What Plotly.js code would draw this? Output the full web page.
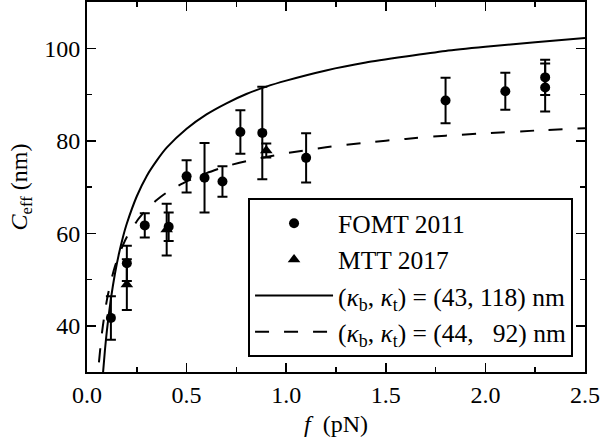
<!DOCTYPE html>
<html>
<head>
<meta charset="utf-8">
<script src="https://cdn.plot.ly/plotly-3.0.1.min.js"></script>
<style>
  html, body { margin: 0; padding: 0; background: #ffffff; }
  #chart { width: 600px; height: 441px; }
</style>
</head>
<body>
<div id="chart"></div>
<script>
// FOMT 2011 data (circles)
const fomtForce = [0.12, 0.20, 0.29, 0.41, 0.50, 0.59, 0.68, 0.77, 0.88, 1.10, 1.80, 2.10, 2.30, 2.30];
const fomtCeff  = [41.7, 53.5, 61.7, 61.4, 72.3, 72.0, 71.2, 81.9, 81.7, 76.3, 88.7, 90.7, 93.7, 91.5];
const fomtErr   = [4.7, 3.8, 2.6, 3.1, 3.5, 7.5, 3.3, 4.7, 10.0, 5.3, 4.9, 4.0, 3.8, 5.2];

// MTT 2017 data (triangles)
const mttForce = [0.20, 0.40, 0.90];
const mttCeff  = [48.9, 60.8, 77.9];
const mttErr   = [5.5, 5.6, 1.5];

// Solid curve (kb, kt) = (43, 118) nm
const solidForce = [0.08, 0.09, 0.10, 0.12, 0.14, 0.16, 0.18, 0.20, 0.25, 0.30, 0.35, 0.40, 0.50, 0.60, 0.70, 0.80, 0.90, 1.00, 1.20, 1.40, 1.60, 1.80, 2.00, 2.25, 2.50];
const solidCeff  = [29.6, 34.7, 39.0, 45.8, 51.2, 55.5, 59.1, 62.1, 68.0, 72.4, 75.7, 78.5, 82.6, 85.7, 88.1, 90.1, 91.7, 93.0, 95.2, 96.9, 98.2, 99.4, 100.3, 101.3, 102.2];

// Dashed curve (kb, kt) = (44, 92) nm
const dashForce = [0.06, 0.07, 0.08, 0.10, 0.12, 0.14, 0.16, 0.18, 0.20, 0.25, 0.30, 0.35, 0.40, 0.50, 0.60, 0.70, 0.80, 0.90, 1.00, 1.20, 1.40, 1.60, 1.80, 2.00, 2.25, 2.50];
const dashCeff  = [32.1, 36.5, 40.1, 45.6, 49.6, 52.8, 55.3, 57.4, 59.2, 62.6, 65.2, 67.2, 68.8, 71.2, 73.0, 74.5, 75.6, 76.5, 77.3, 78.6, 79.6, 80.4, 81.1, 81.6, 82.2, 82.7];

// Labels
const seriesNames = [
  'FOMT 2011',
  'MTT 2017',
  '(<i>κ</i><sub>b</sub>, <i>κ</i><sub>t</sub>) = (43, 118) nm',
  '(<i>κ</i><sub>b</sub>, <i>κ</i><sub>t</sub>) = (44, \u200792) nm'
];
const xTickVals = [0, 0.5, 1.0, 1.5, 2.0, 2.5];
const xTickText = ['0.0', '0.5', '1.0', '1.5', '2.0', '2.5'];
const yTickVals = [40, 60, 80, 100];
const xTitle = '<i>f</i>  (pN)';
const yTitle = '<i>C</i><sub>eff</sub> (nm)';

const FONT = 'Liberation Serif, DejaVu Serif, serif';

const traces = [
  {
    x: fomtForce, y: fomtCeff, type: 'scatter', mode: 'markers', name: seriesNames[0],
    marker: { symbol: 'circle', size: 10, color: '#000' },
    error_y: { type: 'data', array: fomtErr, visible: true, color: '#000', thickness: 2, width: 5 }
  },
  {
    x: mttForce, y: mttCeff, type: 'scatter', mode: 'markers', name: seriesNames[1],
    marker: { symbol: 'triangle-up', size: 11, color: '#000' },
    error_y: { type: 'data', array: mttErr, visible: true, color: '#000', thickness: 2, width: 5 }
  },
  {
    x: solidForce, y: solidCeff, type: 'scatter', mode: 'lines', name: seriesNames[2],
    line: { color: '#000', width: 2, shape: 'spline', smoothing: 0.6 }
  },
  {
    x: dashForce, y: dashCeff, type: 'scatter', mode: 'lines', name: seriesNames[3],
    line: { color: '#000', width: 2, dash: '14px,15px', shape: 'spline', smoothing: 0.6 }
  }
];

const axisCommon = {
  showline: true, linecolor: '#000', linewidth: 2, mirror: 'ticks',
  ticks: 'inside', ticklen: 9, tickwidth: 1.5, tickcolor: '#000',
  showgrid: false, zeroline: false,
  tickfont: { family: FONT, size: 24, color: '#000' }
};

const layout = {
  width: 600, height: 441,
  margin: { l: 87, r: 15, t: 2, b: 69 },
  paper_bgcolor: '#fff', plot_bgcolor: '#fff',
  font: { family: FONT, size: 24, color: '#000' },
  showlegend: true,
  legend: {
    x: 0.976, y: 0.04, xanchor: 'right', yanchor: 'bottom',
    bordercolor: '#000', borderwidth: 2, bgcolor: '#fff',
    font: { family: FONT, size: 25.5, color: '#000' },
    itemwidth: 78, tracegroupgap: 0
  },
  xaxis: Object.assign({}, axisCommon, {
    range: [0, 2.5], tickvals: xTickVals, ticktext: xTickText,
    minor: { dtick: 0.25, ticks: 'inside', ticklen: 5, tickwidth: 1.5, tickcolor: '#000' },
    title: { text: xTitle, font: { family: FONT, size: 24, color: '#000000' }, standoff: 8 }
  }),
  yaxis: Object.assign({}, axisCommon, {
    range: [30, 110], tickvals: yTickVals,
    minor: { dtick: 10, tick0: 30, ticks: 'inside', ticklen: 5, tickwidth: 1.5, tickcolor: '#000' },
    title: { text: yTitle, font: { family: FONT, size: 24, color: '#000000' }, standoff: 10 }
  })
};

Plotly.newPlot('chart', traces, layout, { staticPlot: true, displayModeBar: false });
</script>
</body>
</html>
